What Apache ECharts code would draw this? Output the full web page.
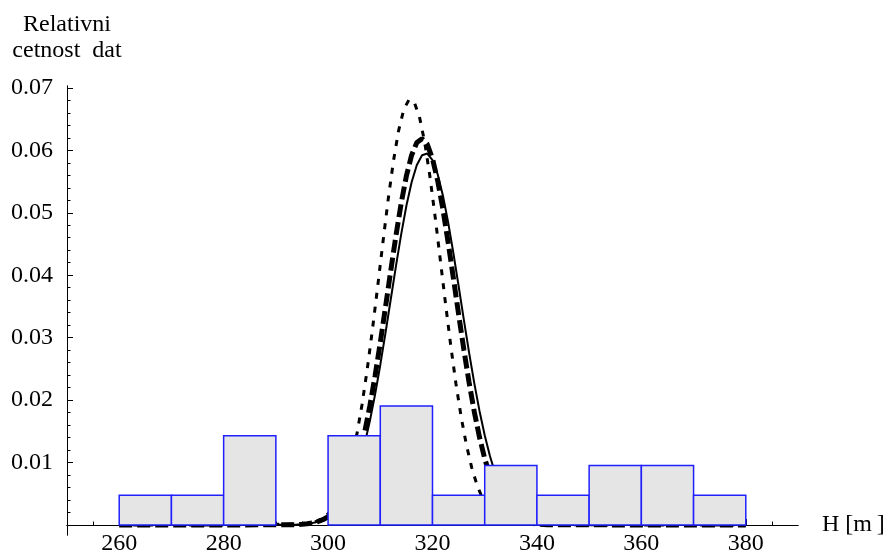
<!DOCTYPE html>
<html>
<head>
<meta charset="utf-8">
<script src="https://cdn.jsdelivr.net/npm/echarts@6/dist/echarts.min.js"></script>
<style>html,body{margin:0;padding:0;background:#fff}#c{width:888px;height:559px}</style>
</head>
<body>
<div id="c"></div>
<script>
// Histogram bins (left edges, width 10) and relative frequencies
var binStarts = [260, 270, 280, 290, 300, 310, 320, 330, 340, 350, 360, 370];
var binValues = [0.00476, 0.00476, 0.01429, 0, 0.01429, 0.01905, 0.00476, 0.00952, 0.00476, 0.00952, 0.00952, 0.00476];

// Solid curve samples
var solidX = [260, 280, 294, 295, 296, 297, 298, 299, 300, 301, 302, 303, 304, 305, 306, 307, 308, 309, 310, 311, 312, 313, 314, 315, 316, 317, 318, 319, 320, 321, 322, 323, 324, 325, 326, 327, 328, 329, 330, 331, 332, 333, 334, 335, 336, 337, 338, 339, 340, 341, 342, 344, 360, 380];
var solidY = [0, 0, 0.00007, 0.00011, 0.00019, 0.00031, 0.0005, 0.00079, 0.00121, 0.00182, 0.00267, 0.00382, 0.00536, 0.00736, 0.00987, 0.01296, 0.01664, 0.02088, 0.02563, 0.03077, 0.03611, 0.04146, 0.04655, 0.05112, 0.0549, 0.05765, 0.05922, 0.05948, 0.05843, 0.05613, 0.05274, 0.04846, 0.04354, 0.03827, 0.03289, 0.02765, 0.02272, 0.01827, 0.01436, 0.01104, 0.0083, 0.0061, 0.00439, 0.00309, 0.00212, 0.00143, 0.00094, 0.0006, 0.00038, 0.00023, 0.00014, 0.00005, 0, 0];

// Thick dashed curve samples
var dashX = [260, 280, 294, 295, 296, 297, 298, 299, 300, 301, 302, 303, 304, 305, 306, 307, 308, 309, 310, 311, 312, 313, 314, 315, 316, 317, 318, 319, 320, 321, 322, 323, 324, 325, 326, 327, 328, 329, 330, 331, 332, 333, 334, 335, 336, 337, 338, 339, 340, 342, 360, 380];
var dashY = [0, 0, 0.00006, 0.00011, 0.00019, 0.00033, 0.00053, 0.00085, 0.00132, 0.002, 0.00296, 0.00429, 0.00606, 0.00837, 0.01128, 0.01483, 0.01905, 0.02387, 0.02921, 0.0349, 0.0407, 0.04634, 0.05152, 0.0559, 0.05922, 0.06125, 0.06185, 0.06096, 0.05866, 0.0551, 0.05054, 0.04524, 0.03955, 0.03375, 0.02811, 0.02286, 0.01815, 0.01406, 0.01064, 0.00786, 0.00567, 0.00399, 0.00274, 0.00184, 0.00121, 0.00077, 0.00048, 0.00029, 0.00017, 0.00006, 0, 0];

// Dotted curve samples
var dotX = [260, 280, 295.5, 296.5, 297.5, 298.5, 299.5, 300.5, 301.5, 302.5, 303.5, 304.5, 305.5, 306.5, 307.5, 308.5, 309.5, 310.5, 311.5, 312.5, 313.5, 314.5, 315.5, 316.5, 317.5, 318.5, 319.5, 320.5, 321.5, 322.5, 323.5, 324.5, 325.5, 326.5, 327.5, 328.5, 329.5, 330.5, 331.5, 332.5, 333.5, 334.5, 335.5, 337.5, 360, 380];
var dotY = [0, 0, 0.00017, 0.0003, 0.00051, 0.00086, 0.00141, 0.00223, 0.00344, 0.00515, 0.00748, 0.01057, 0.01447, 0.01927, 0.02493, 0.03131, 0.03819, 0.04524, 0.05206, 0.05817, 0.06313, 0.06654, 0.06811, 0.06771, 0.06538, 0.06131, 0.05584, 0.04939, 0.04243, 0.0354, 0.02869, 0.02257, 0.01725, 0.0128, 0.00923, 0.00646, 0.00439, 0.0029, 0.00186, 0.00116, 0.0007, 0.00041, 0.00024, 0.00007, 0, 0];

// Tick values
var xMajorTicks = [260, 280, 300, 320, 340, 360, 380];
var xMinorTicks = [255, 260, 265, 270, 275, 280, 285, 290, 295, 300, 305, 310, 315, 320, 325, 330, 335, 340, 345, 350, 355, 360, 365, 370, 375, 380, 385];
var yMajorTicks = [0.01, 0.02, 0.03, 0.04, 0.05, 0.06, 0.07];
var yMinorTicks = [0.002, 0.004, 0.006, 0.008, 0.01, 0.012, 0.014, 0.016, 0.018, 0.02, 0.022, 0.024, 0.026, 0.028, 0.03, 0.032, 0.034, 0.036, 0.038, 0.04, 0.042, 0.044, 0.046, 0.048, 0.05, 0.052, 0.054, 0.056, 0.058, 0.06, 0.062, 0.064, 0.066, 0.068, 0.07];

function pairs(xs, ys) { return xs.map(function (x, i) { return [x, ys[i]]; }); }
var barData = [];
binStarts.forEach(function (s, i) { if (binValues[i] > 0) barData.push([s, s + 10, binValues[i]]); });

var font = 'Liberation Serif';
var fs = 24;
var chart = echarts.init(document.getElementById('c'), null, { renderer: 'canvas' });
var axisLine = { show: true, onZero: true, onZeroAxisIndex: 0, lineStyle: { color: '#000', width: 1 } };
chart.setOption({
  animation: false,
  backgroundColor: '#fff',
  grid: { left: 67, right: 90, top: 86, bottom: 24, containLabel: false, outerBoundsMode: 'none' },
  xAxis: [{
    type: 'value', min: 250, max: 390, position: 'bottom',
    name: 'H [m\u2009]', nameLocation: 'end', nameGap: 24,
    nameTextStyle: { fontFamily: font, fontSize: fs, color: '#000', verticalAlign: 'middle' },
    axisLine: axisLine,
    axisTick: { show: true, inside: true, length: 6, customValues: xMajorTicks, lineStyle: { color: '#000' } },
    axisLabel: { show: true, margin: -3, customValues: xMajorTicks, fontFamily: font, fontSize: fs, color: '#000' },
    splitLine: { show: false }
  }, {
    type: 'value', min: 250, max: 390, position: 'bottom',
    axisLine: axisLine,
    axisTick: { show: true, inside: true, length: 3.5, customValues: xMinorTicks, lineStyle: { color: '#000' } },
    axisLabel: { show: false },
    splitLine: { show: false }
  }],
  yAxis: [{
    type: 'value', min: -0.0016, max: 0.0703, position: 'left',
    name: 'Relativni\ncetnost  dat', nameLocation: 'end', nameGap: 22,
    nameTextStyle: { fontFamily: font, fontSize: fs, lineHeight: 26, color: '#000', align: 'center' },
    axisLine: { show: true, onZero: false, lineStyle: { color: '#000', width: 1 } },
    axisTick: { show: true, inside: true, length: 6, customValues: yMajorTicks, lineStyle: { color: '#000' } },
    axisLabel: { show: true, margin: 14, customValues: yMajorTicks, fontFamily: font, fontSize: fs, color: '#000',
      formatter: function (v) { return v.toFixed(2); } },
    splitLine: { show: false }
  }, {
    type: 'value', min: -0.0016, max: 0.0703, position: 'left',
    axisLine: { show: true, onZero: false, lineStyle: { color: '#000', width: 1 } },
    axisTick: { show: true, inside: true, length: 3.5, customValues: yMinorTicks, lineStyle: { color: '#000' } },
    axisLabel: { show: false },
    splitLine: { show: false }
  }],
  series: [{
    type: 'line', xAxisIndex: 0, yAxisIndex: 0, z: 2, showSymbol: false, smooth: false,
    data: pairs(solidX, solidY), lineStyle: { color: '#000', width: 2, type: 'solid' }
  }, {
    type: 'line', xAxisIndex: 0, yAxisIndex: 0, z: 2, showSymbol: false, smooth: false,
    data: pairs(dashX, dashY), lineStyle: { color: '#000', width: 5, type: [13, 5] }
  }, {
    type: 'line', xAxisIndex: 0, yAxisIndex: 0, z: 2, showSymbol: false, smooth: false,
    data: pairs(dotX, dotY), lineStyle: { color: '#000', width: 3, type: [6, 8] }
  }, {
    type: 'custom', xAxisIndex: 0, yAxisIndex: 0, z: 5,
    data: barData,
    renderItem: function (params, api) {
      var p0 = api.coord([api.value(0), api.value(2)]);
      var p1 = api.coord([api.value(1), 0]);
      return {
        type: 'rect',
        shape: { x: p0[0], y: p0[1], width: p1[0] - p0[0], height: p1[1] - p0[1] },
        style: { fill: '#e5e5e5', stroke: '#2020ff', lineWidth: 1.5 }
      };
    }
  }]
});
</script>
</body>
</html>
